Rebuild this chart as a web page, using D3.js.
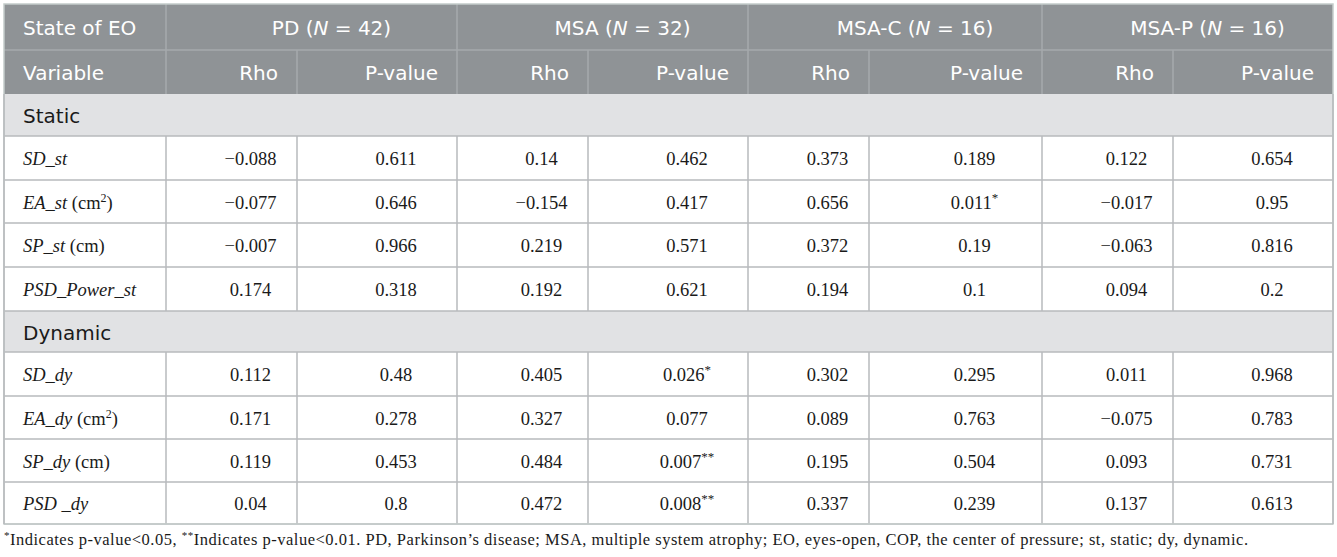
<!DOCTYPE html>
<html>
<head>
<meta charset="utf-8">
<script src="https://cdn.jsdelivr.net/npm/d3@7"></script>
<style>
  body { margin: 0; background: #fff; }
  svg { display: block; }
</style>
</head>
<body>
<div id="chart"></div>
<script>
// groups and sample sizes
const groups = ['PD', 'MSA', 'MSA-C', 'MSA-P'];
const groupN = [42, 32, 16, 16];
const subHeaders = ['Rho', 'P-value'];

// variables (by condition)
const sections = ['Static', 'Dynamic'];
const staticVars = ['SD_st', 'EA_st', 'SP_st', 'PSD_Power_st'];
const dynamicVars = ['SD_dy', 'EA_dy', 'SP_dy', 'PSD _dy'];
const staticUnits = ['', 'cm2', 'cm', ''];
const dynamicUnits = ['', 'cm2', 'cm', ''];

// Rho and p-values, static rows first then dynamic
const pdRho = [-0.088, -0.077, -0.007, 0.174, 0.112, 0.171, 0.119, 0.04];
const pdP = [0.611, 0.646, 0.966, 0.318, 0.48, 0.278, 0.453, 0.8];
const msaRho = [0.14, -0.154, 0.219, 0.192, 0.405, 0.327, 0.484, 0.472];
const msaP = [0.462, 0.417, 0.571, 0.621, 0.026, 0.077, 0.007, 0.008];
const msacRho = [0.373, 0.656, 0.372, 0.194, 0.302, 0.089, 0.195, 0.337];
const msacP = [0.189, 0.011, 0.19, 0.1, 0.295, 0.763, 0.504, 0.239];
const msapRho = [0.122, -0.017, -0.063, 0.094, 0.011, -0.075, 0.093, 0.137];
const msapP = [0.654, 0.95, 0.816, 0.2, 0.968, 0.783, 0.731, 0.613];

const footnote = 'Indicates p-value<0.05, ';
const footnote2 = 'Indicates p-value<0.01. PD, Parkinson\u2019s disease; MSA, multiple system atrophy; EO, eyes-open, COP, the center of pressure; st, static; dy, dynamic.';

const width = 1337;
const height = 557;

// layout
const colEdges = [4, 166, 297, 457, 588, 748, 869, 1042, 1173, 1333];
const rowEdges = [4, 50, 94, 136, 180, 223, 267, 311, 352, 396, 439, 482, 524];

const headBg = '#8f9396';
const headLine = '#a6aaad';
const sectionBg = '#e1e2e4';
const gridColor = '#b7babc';
const textColor = '#1a1a1a';
const sans = '"DejaVu Sans", sans-serif';
const serif = '"Liberation Serif", "Times New Roman", serif';

const x = d3.scaleOrdinal().domain(d3.range(colEdges.length)).range(colEdges);
const y = d3.scaleOrdinal().domain(d3.range(rowEdges.length)).range(rowEdges);

// build table rows
const columns = [pdRho, pdP, msaRho, msaP, msacRho, msacP, msapRho, msapP];
const rows = [];
sections.forEach((s, si) => {
    rows.push({ type: 'section', label: s });
    const vars = si === 0 ? staticVars : dynamicVars;
    const units = si === 0 ? staticUnits : dynamicUnits;
    vars.forEach((v, vi) => {
        const k = si * 4 + vi;
        rows.push({
            type: 'data',
            name: v,
            unit: units[vi],
            values: columns.map((c, ci) => ({ v: c[k], isP: ci % 2 === 1 }))
        });
    });
});

const fmt = (v) => String(v).replace('-', '\u2212');
const stars = (p) => (p < 0.01 ? '**' : p < 0.05 ? '*' : '');

const svg = d3.select('#chart')
    .append('svg')
    .attr('width', width)
    .attr('height', height);

// header background
svg.append('rect')
    .attr('x', x(0))
    .attr('y', y(0))
    .attr('width', x(9) - x(0))
    .attr('height', y(2) - y(0))
    .attr('fill', headBg);

// header lines
svg.append('line')
    .attr('x1', x(0)).attr('x2', x(9))
    .attr('y1', y(1)).attr('y2', y(1))
    .attr('stroke', headLine).attr('stroke-width', 1.5);

[1, 3, 5, 7].forEach((c) => {
    svg.append('line')
        .attr('x1', x(c)).attr('x2', x(c))
        .attr('y1', y(0)).attr('y2', y(2))
        .attr('stroke', headLine).attr('stroke-width', 1.5);
});
[2, 4, 6, 8].forEach((c) => {
    svg.append('line')
        .attr('x1', x(c)).attr('x2', x(c))
        .attr('y1', y(1)).attr('y2', y(2))
        .attr('stroke', headLine).attr('stroke-width', 1.5);
});

// header text
svg.append('text')
    .attr('x', x(0) + 19)
    .attr('y', (y(0) + y(1)) / 2 + 8)
    .attr('fill', '#fff')
    .style('font-family', sans)
    .style('font-size', '20px')
    .text('State of EO');

svg.append('text')
    .attr('x', x(0) + 19)
    .attr('y', (y(1) + y(2)) / 2 + 8)
    .attr('fill', '#fff')
    .style('font-family', sans)
    .style('font-size', '20px')
    .text('Variable');

groups.forEach((g, i) => {
    const t = svg.append('text')
        .attr('x', (x(1 + i * 2) + x(3 + i * 2)) / 2 + 20)
        .attr('y', (y(0) + y(1)) / 2 + 8)
        .attr('text-anchor', 'middle')
        .attr('fill', '#fff')
        .style('font-family', sans)
        .style('font-size', '20px');
    t.append('tspan').text(g + ' (');
    t.append('tspan').style('font-style', 'italic').text('N');
    t.append('tspan').text(' = ' + groupN[i] + ')');

    subHeaders.forEach((h, j) => {
        svg.append('text')
            .attr('x', x(2 + i * 2 + j) - 19)
            .attr('y', (y(1) + y(2)) / 2 + 8)
            .attr('text-anchor', 'end')
            .attr('fill', '#fff')
            .style('font-family', sans)
            .style('font-size', '20px')
            .text(h);
    });
});

// body rows
rows.forEach((r, ri) => {
    const top = y(ri + 2);
    const bottom = y(ri + 3);
    const mid = (top + bottom) / 2;
    const g = svg.append('g');

    if (r.type === 'section') {
        g.append('rect')
            .attr('x', x(0)).attr('y', top)
            .attr('width', x(9) - x(0)).attr('height', bottom - top)
            .attr('fill', sectionBg);
        g.append('text')
            .attr('x', x(0) + 19)
            .attr('y', mid + 8)
            .attr('fill', textColor)
            .style('font-family', sans)
            .style('font-size', '20px')
            .text(r.label);
        return;
    }

    // variable name
    const name = g.append('text')
        .attr('x', x(0) + 19)
        .attr('y', mid + 7)
        .attr('fill', textColor)
        .style('font-family', serif)
        .style('font-size', '18.5px');
    name.append('tspan').style('font-style', 'italic').text(r.name);
    if (r.unit === 'cm2') {
        name.append('tspan').text(' (cm');
        name.append('tspan').attr('dy', -7).style('font-size', '12px').text('2');
        name.append('tspan').attr('dy', 7).text(')');
    } else if (r.unit === 'cm') {
        name.append('tspan').text(' (cm)');
    }

    // values
    r.values.forEach((d, ci) => {
        const t = g.append('text')
            .attr('x', (x(ci + 1) + x(ci + 2)) / 2 + 19)
            .attr('y', mid + 7)
            .attr('text-anchor', 'middle')
            .attr('fill', textColor)
            .style('font-family', serif)
            .style('font-size', '18.5px');
        t.append('tspan').text(fmt(d.v));
        const s = d.isP ? stars(d.v) : '';
        if (s) {
            t.append('tspan').attr('dy', -7).style('font-size', '13px').text(s);
        }
    });
});

// body grid
const bodyTop = y(2);
const bodyBottom = y(rowEdges.length - 1);

rows.forEach((r, ri) => {
    svg.append('line')
        .attr('x1', x(0)).attr('x2', x(9))
        .attr('y1', y(ri + 3)).attr('y2', y(ri + 3))
        .attr('stroke', gridColor).attr('stroke-width', 1.5);
    if (r.type === 'data') {
        d3.range(1, 9).forEach((c) => {
            svg.append('line')
                .attr('x1', x(c)).attr('x2', x(c))
                .attr('y1', y(ri + 2)).attr('y2', y(ri + 3))
                .attr('stroke', gridColor).attr('stroke-width', 1.5);
        });
    }
});

// outer border
svg.append('rect')
    .attr('x', x(0)).attr('y', y(0))
    .attr('width', x(9) - x(0))
    .attr('height', bodyBottom - y(0))
    .attr('fill', 'none')
    .attr('stroke', '#c4ccca')
    .attr('stroke-width', 1.5);
svg.append('line')
    .attr('x1', x(0)).attr('x2', x(0))
    .attr('y1', bodyTop).attr('y2', bodyBottom)
    .attr('stroke', gridColor).attr('stroke-width', 1.5);
svg.append('line')
    .attr('x1', x(9)).attr('x2', x(9))
    .attr('y1', bodyTop).attr('y2', bodyBottom)
    .attr('stroke', gridColor).attr('stroke-width', 1.5);

// footnote
const note = svg.append('text')
    .attr('x', x(0))
    .attr('y', 545)
    .attr('fill', textColor)
    .attr('textLength', 1244)
    .attr('lengthAdjust', 'spacing')
    .style('font-family', serif)
    .style('font-size', '16.5px');
note.append('tspan').attr('dy', -6).style('font-size', '11px').text('*');
note.append('tspan').attr('dy', 6).text(footnote);
note.append('tspan').attr('dy', -6).style('font-size', '11px').text('**');
note.append('tspan').attr('dy', 6).text(footnote2);
</script>
</body>
</html>
